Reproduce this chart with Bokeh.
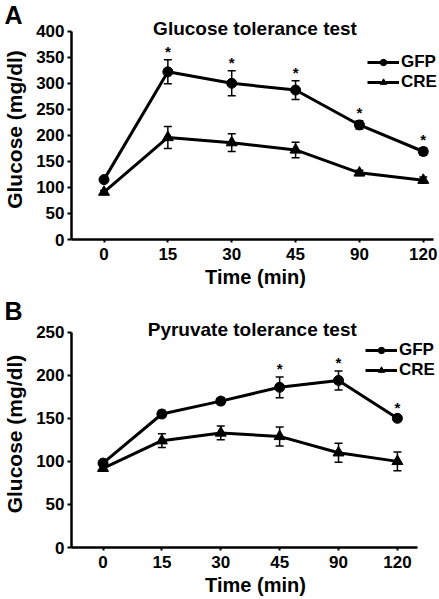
from bokeh.plotting import figure
from bokeh.models import (ColumnDataSource, FixedTicker, Whisker, TeeHead, Label,
                          Legend, LegendItem, Range1d)
from bokeh.layouts import column
from bokeh.core.properties import value
from bokeh.embed import file_html
from bokeh.resources import INLINE

# ---------------- data ----------------
time_labels = ["0", "15", "30", "45", "90", "120"]

gtt_gfp = [115, 322, 300, 287, 220, 169]
gtt_gfp_sem = [3, 23, 24, 18, 8, 7]
gtt_cre = [91, 196, 186, 172, 128, 114]
gtt_cre_sem = [3, 21, 17, 15, 5, 6]
gtt_sig = [False, True, True, True, True, True]
gtt_yticks = [0, 50, 100, 150, 200, 250, 300, 350, 400]

ptt_gfp = [98, 155, 170, 186, 194, 150]
ptt_gfp_sem = [3, 4, 4, 12, 11, 3]
ptt_cre = [92, 124, 133, 129, 110, 100]
ptt_cre_sem = [3, 8, 8, 11, 11, 11]
ptt_sig = [False, False, False, True, True, True]
ptt_yticks = [0, 50, 100, 150, 200, 250]

series_names = ["GFP", "CRE"]
FONT = "Liberation Sans"


def make_panel(letter, title, gfp, gfp_sem, cre, cre_sem, sig, yticks,
               height, b_top, letter_h, frame_h, x_range, x_bounds, y_end,
               title_x, title_dy, legend_loc):
    xs = list(range(len(time_labels)))
    p = figure(width=439, height=height, output_backend="svg",
               toolbar_location=None, title=letter,
               min_border_left=69, min_border_right=0,
               min_border_top=b_top,
               min_border_bottom=height - b_top - frame_h,
               x_range=Range1d(*x_range),
               y_range=Range1d(yticks[0], y_end))
    p.outline_line_color = None
    p.xgrid.visible = False
    p.ygrid.visible = False
    p.background_fill_color = "white"

    # panel letter as the (left aligned) plot title
    p.title.align = "left"
    p.title.vertical_align = "middle"
    p.title.offset = -67
    p.title.standoff = letter_h - 2 - 27.9
    p.title.text_font = FONT
    p.title.text_font_style = "bold"
    p.title.text_font_size = "25px"
    p.title.text_color = "black"

    for ax in (p.xaxis[0], p.yaxis[0]):
        ax.axis_line_width = 2.5
        ax.axis_line_color = "black"
        ax.major_tick_line_width = 2
        ax.major_tick_line_color = "black"
        ax.major_tick_in = 0
        ax.minor_tick_line_color = None
        ax.major_label_text_font = FONT
        ax.major_label_text_font_style = "bold"
        ax.major_label_text_font_size = "17px"
        ax.major_label_text_color = "black"
        ax.axis_label_text_font = FONT
        ax.axis_label_text_font_style = "bold"
        ax.axis_label_text_color = "black"

    p.xaxis.ticker = FixedTicker(ticks=xs)
    p.xaxis.major_label_overrides = {i: t for i, t in enumerate(time_labels)}
    p.xaxis.bounds = x_bounds
    p.xaxis.major_tick_out = 3
    p.xaxis.major_label_standoff = 5
    p.xaxis.axis_label = "Time (min)"
    p.xaxis.axis_label_text_font_size = "20px"
    p.xaxis.axis_label_standoff = 3

    p.yaxis.ticker = FixedTicker(ticks=yticks)
    p.yaxis.bounds = (yticks[0], yticks[-1])
    p.yaxis.major_tick_out = 4
    p.yaxis.major_label_standoff = 3
    p.yaxis.axis_label = "Glucose (mg/dl)"
    p.yaxis.axis_label_text_font_size = "21px"
    p.yaxis.axis_label_standoff = 7

    items = []
    for name, vals, sems, marker, msize in (
            (series_names[0], gfp, gfp_sem, "circle", 10),
            (series_names[1], cre, cre_sem, "triangle", 11)):
        src = ColumnDataSource(dict(
            x=xs, y=vals,
            upper=[v + s for v, s in zip(vals, sems)],
            lower=[v - s for v, s in zip(vals, sems)]))
        w = Whisker(source=src, base="x", upper="upper", lower="lower",
                    line_color="black", line_width=1.5,
                    upper_head=TeeHead(size=8, line_width=1.5, line_color="black"),
                    lower_head=TeeHead(size=8, line_width=1.5, line_color="black"))
        p.add_layout(w)
        lr = p.line("x", "y", source=src, line_color="black", line_width=3)
        sr = p.scatter("x", "y", source=src, marker=marker, size=msize,
                       fill_color="black", line_color="black")
        items.append(LegendItem(label=name, renderers=[lr, sr]))

    # significance asterisks above GFP error bars
    sx = [x for x, s in zip(xs, sig) if s]
    sy = [v + e for v, e, s in zip(gfp, gfp_sem, sig) if s]
    p.text(x=sx, y=sy, text=["*"] * len(sx), text_align="center",
           text_baseline="bottom", y_offset=0,
           text_font=value(FONT), text_font_style="bold",
           text_font_size="15px", text_color="black")

    legend = Legend(items=items, location=legend_loc,
                    glyph_width=32, glyph_height=16, label_height=16,
                    label_width=30, spacing=0, padding=0, margin=0,
                    label_standoff=2, border_line_color=None,
                    background_fill_alpha=0,
                    label_text_font=FONT, label_text_font_style="bold",
                    label_text_font_size="17px", label_text_color="black")
    p.add_layout(legend)

    p.add_layout(Label(x=title_x, y=yticks[-1], y_offset=title_dy, text=title,
                       text_align="center", text_baseline="middle",
                       text_font=FONT, text_font_style="bold",
                       text_font_size="19px", text_color="black"))
    return p


pA = make_panel("A", "Glucose tolerance test", gtt_gfp, gtt_gfp_sem,
                gtt_cre, gtt_cre_sem, gtt_sig, gtt_yticks,
                height=296, b_top=19, letter_h=9.1, frame_h=220,
                x_range=(-0.509, 5.254), x_bounds=(-0.509, 5.16),
                y_end=422.5, title_x=2.365, title_dy=2.5,
                legend_loc=(296, 147))
pB = make_panel("B", "Pyruvate tolerance test", ptt_gfp, ptt_gfp_sem,
                ptt_cre, ptt_cre_sem, ptt_sig, ptt_yticks,
                height=303, b_top=24, letter_h=19, frame_h=227,
                x_range=(-0.535, 5.715), x_bounds=(-0.535, 5.338),
                y_end=263.6, title_x=2.535, title_dy=2.5,
                legend_loc=(294, 167))

layout = column(pA, pB, spacing=0)
open("out.html", "w").write(file_html(layout, INLINE))
